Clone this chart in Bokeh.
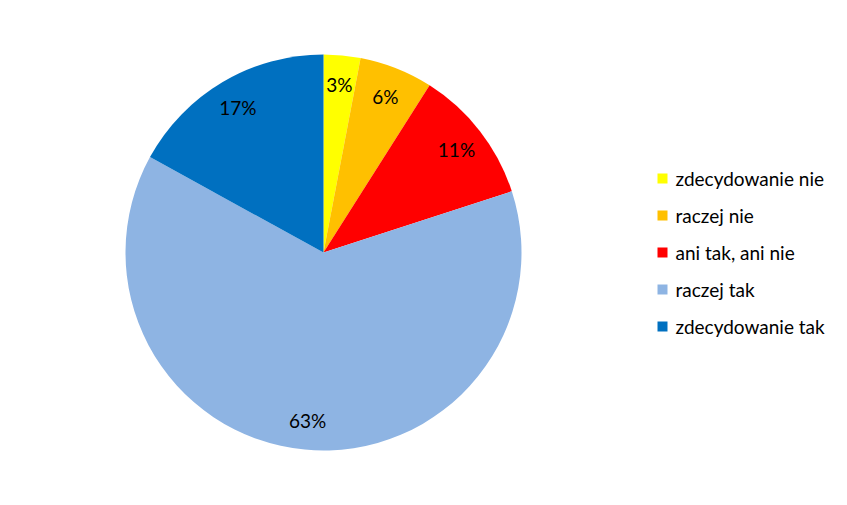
import math
from bokeh.plotting import figure
from bokeh.models import Range1d, ColumnDataSource
from bokeh.core.properties import value
from bokeh.embed import file_html
from bokeh.resources import INLINE

categories = ["zdecydowanie nie", "raczej nie", "ani tak, ani nie", "raczej tak", "zdecydowanie tak"]
shares = [3, 6, 11, 63, 17]
colors = ["#FFFF00", "#FFC000", "#FF0000", "#8EB4E3", "#0070C0"]

W, H = 831, 489
p = figure(width=W, height=H, output_backend="svg", toolbar_location=None,
           x_range=Range1d(0, W), y_range=Range1d(0, H), min_border=0)
p.axis.visible = False
p.grid.visible = False
p.outline_line_color = None
p.background_fill_color = "white"
p.border_fill_color = "white"

cx, cy, R = 323, H - 252, 198
total = sum(shares)
starts, ends, lx, ly, labels = [], [], [], [], []
acc = 0
for s in shares:
    a0 = math.pi / 2 - 2 * math.pi * acc / total
    a1 = math.pi / 2 - 2 * math.pi * (acc + s) / total
    starts.append(a0)
    ends.append(a1)
    mid = (a0 + a1) / 2
    lr = R * 0.85
    lx.append(cx + lr * math.cos(mid))
    ly.append(cy + lr * math.sin(mid))
    labels.append(f"{s}%")
    acc += s

src = ColumnDataSource(dict(start=starts, end=ends, color=colors, lx=lx, ly=ly, label=labels))
p.wedge(x=cx, y=cy, radius=R, start_angle="start", end_angle="end", direction="clock",
        fill_color="color", line_color=None, source=src)
p.text(x="lx", y="ly", text="label", source=src, text_align="center", text_baseline="middle",
       text_font=value("Lato"), text_font_size="19px", text_color="#000000")

# legend
ly0 = H - 178
step = 37
leg = ColumnDataSource(dict(
    y=[ly0 - i * step for i in range(len(categories))],
    name=categories, color=colors))
p.rect(x=662, y="y", width=10, height=10, fill_color="color", line_color=None, source=leg)
p.text(x=675, y="y", text="name", source=leg, text_align="left", text_baseline="middle",
       text_font=value("Lato"), text_font_size="19px", text_color="#000000")

open("out.html", "w").write(file_html(p, INLINE))
